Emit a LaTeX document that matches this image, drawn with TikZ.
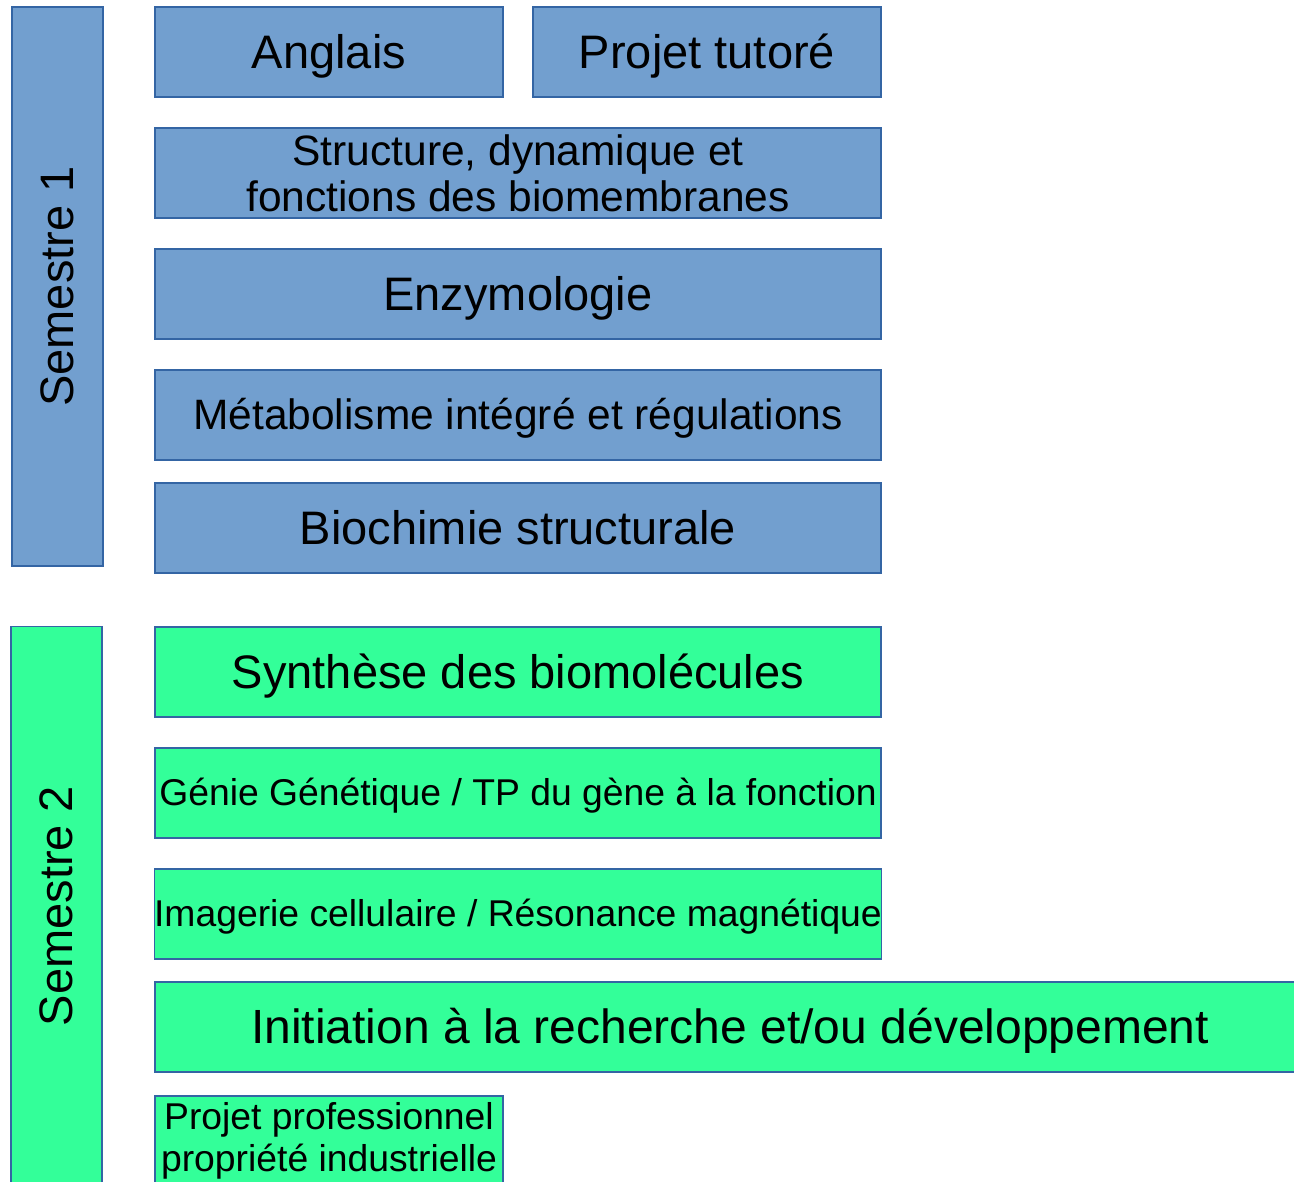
\documentclass[tikz,border=0pt]{standalone}
\usepackage{fontspec}
\setmainfont{Liberation Sans}
\usepackage{tikz}

\definecolor{ueblue}{HTML}{729FCF}
\definecolor{uegreen}{HTML}{33FF99}
\definecolor{ueline}{HTML}{3465A4}

\newcommand{\txtbig}{\fontsize{47}{54}\selectfont}
\newcommand{\txthuge}{\fontsize{48}{55}\selectfont}
\newcommand{\txtmid}{\fontsize{42.5}{46}\selectfont}
\newcommand{\txtsmall}{\fontsize{37.3}{42}\selectfont}

\begin{document}
\begin{tikzpicture}[x=1pt,y=-1pt,
	ue/.style={draw=ueline,line width=1.2pt,inner sep=0pt,align=center,text=black},
	s1/.style={ue,fill=ueblue},
	s2/.style={ue,fill=uegreen},
	wide/.style={minimum width=726pt,minimum height=90pt},
	half/.style={minimum width=348pt,minimum height=90pt},
	sem/.style={minimum width=559pt,minimum height=91pt,rotate=90},
	bigtxt/.style={font=\txtbig,text height=42.5pt,text depth=10pt},
	hugetxt/.style={font=\txthuge,text height=43.4pt,text depth=10.2pt},
	midtxt/.style={font=\txtmid,text height=38.5pt,text depth=9pt},
	smalltxt/.style={font=\txtsmall,text height=33.8pt,text depth=7.9pt}]
	
	\useasboundingbox (0,0) rectangle (1294,1182);
	
	\node[s1,sem,bigtxt] (sem1) at (57.5,286.5) {Semestre 1};
	
	\node[s2,sem,bigtxt] (sem2) at (56.5,906) {Semestre 2};
	
	\node[s1,half,bigtxt] (anglais) at (329,52) {Anglais};
	
	\node[s1,half,bigtxt] (tutore) at (707,52) {Projet tutoré};
	
	\node[s1,wide,font=\txtmid] (membranes) at (518,173) {Structure, dynamique et\\fonctions des biomembranes};
	
	\node[s1,wide,bigtxt] (enzymo) at (518,294) {Enzymologie};
	
	\node[s1,wide,midtxt] (metabo) at (518,415) {Métabolisme intégré et régulations};
	
	\node[s1,wide,bigtxt] (biochimie) at (518,528) {Biochimie structurale};
	
	\node[s2,wide,bigtxt] (synthese) at (518,672) {Synthèse des biomolécules};
	
	\node[s2,wide,smalltxt] (genie) at (518,793) {Génie Génétique / TP du gène à la fonction};
	
	\node[s2,wide,smalltxt] (imagerie) at (518,914) {Imagerie cellulaire / Résonance magnétique};
	
	\node[s2,minimum width=1150pt,minimum height=90pt,hugetxt] (recherche) at (730,1027) {Initiation à la recherche et/ou développement};
	
	\node[s2,half,font=\txtsmall] (projpro) at (329,1141) {Projet professionnel\\propriété industrielle};
	
\end{tikzpicture}
\end{document}
